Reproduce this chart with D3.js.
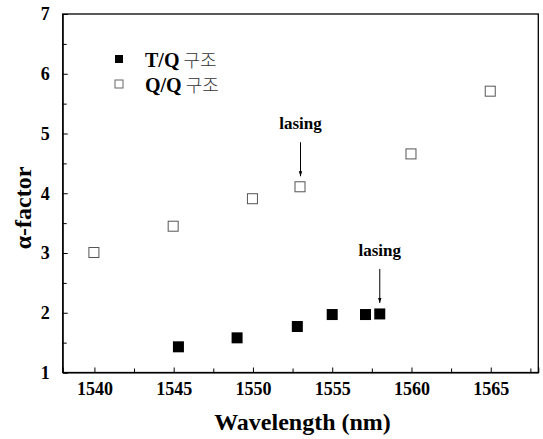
<!DOCTYPE html>
<html>
<head>
<meta charset="utf-8">
<script src="https://cdn.jsdelivr.net/npm/d3@7"></script>
<style>
  body { margin: 0; background: #fff; }
  svg text { font-family: "Times New Roman", "Liberation Serif", "DejaVu Serif", serif; fill: #000; }
  .axis path, .axis line { stroke: #000; }
</style>
</head>
<body>
<svg id="chart" width="543" height="439"></svg>
<script>
// T/Q structure (filled squares)
const tqWavelength = [1545.3, 1549.0, 1552.8, 1555.0, 1557.1, 1558.0];
const tqAlpha      = [1.43, 1.58, 1.77, 1.97, 1.97, 1.98];

// Q/Q structure (open squares)
const qqWavelength = [1540, 1545, 1550, 1553, 1560, 1565];
const qqAlpha      = [3.00, 3.44, 3.90, 4.10, 4.65, 5.70];

const xTicks = [1540, 1545, 1550, 1555, 1560, 1565];
const yTicks = [1, 2, 3, 4, 5, 6, 7];
const legendLabels = ["T/Q", "Q/Q"];
const legendSuffix = "구조";

// annotations: the point each "lasing" arrow points at
const lasingNotes = [
  { x: 1553, y: 4.10 },
  { x: 1558, y: 1.98 }
];

const serif = '"Times New Roman", "Liberation Serif", "DejaVu Serif", serif';

const svg = d3.select('#chart');
const margin = { top: 14, right: 4.7, bottom: 66.5, left: 62.7 };
const W = 543, H = 439;
const iw = W - margin.left - margin.right;
const ih = H - margin.top - margin.bottom;

const x = d3.scaleLinear().domain([1538, 1568]).range([0, iw]);
const y = d3.scaleLinear().domain([1, 7]).range([ih, 0]);

const g = svg.append('g').attr('transform', `translate(${margin.left},${margin.top})`);

// minor ticks halfway between the labelled ones
const xMinor = d3.range(1537.5, 1568.01, 5).filter(v => v >= 1538 && v <= 1568);
const yMinor = d3.range(1.5, 7, 1);

// axes, ticks pointing into the plot
g.append('g').attr('class', 'axis')
  .attr('transform', `translate(0,${ih})`)
  .call(d3.axisBottom(x).tickValues(xTicks).tickSize(-5).tickPadding(10).tickFormat(d3.format('d')));
g.append('g').attr('class', 'axis')
  .attr('transform', `translate(0,${ih})`)
  .call(d3.axisBottom(x).tickValues(xMinor).tickSize(-4).tickFormat(''))
  .select('.domain').remove();

g.append('g').attr('class', 'axis')
  .call(d3.axisLeft(y).tickValues(yTicks).tickSize(-5).tickPadding(13).tickFormat(d3.format('d')));
g.append('g').attr('class', 'axis')
  .call(d3.axisLeft(y).tickValues(yMinor).tickSize(-4).tickFormat(''))
  .select('.domain').remove();

g.selectAll('.axis').attr('font-family', serif);
g.selectAll('.axis text')
  .attr('font-family', serif)
  .style('font-size', '18px')
  .style('font-weight', 'bold');

// frame
g.append('rect')
  .attr('width', iw).attr('height', ih)
  .attr('fill', 'none').attr('stroke', '#000').attr('stroke-width', 1.3);

// markers
const ms = 11;
g.selectAll('.qq').data(qqWavelength).enter()
  .append('rect')
  .attr('class', 'qq')
  .attr('x', (d) => x(d) - ms / 2)
  .attr('y', (d, i) => y(qqAlpha[i]) - ms / 2)
  .attr('width', ms - 1).attr('height', ms - 1)
  .attr('fill', '#fff').attr('stroke', '#555').attr('stroke-width', 1);

g.selectAll('.tq').data(tqWavelength).enter()
  .append('rect')
  .attr('class', 'tq')
  .attr('x', (d) => x(d) - ms / 2)
  .attr('y', (d, i) => y(tqAlpha[i]) - ms / 2)
  .attr('width', ms).attr('height', ms)
  .attr('fill', '#000');

// lasing arrows
svg.append('defs').append('marker')
  .attr('id', 'head')
  .attr('viewBox', '0 0 10 10')
  .attr('refX', 10).attr('refY', 5)
  .attr('markerWidth', 5).attr('markerHeight', 6)
  .attr('orient', 'auto')
  .append('path').attr('d', 'M0,1.5 L10,5 L0,8.5 Z').attr('fill', '#000');

lasingNotes.forEach((n) => {
  const px = x(n.x), py = y(n.y);
  g.append('line')
    .attr('x1', px).attr('x2', px)
    .attr('y1', py - 45).attr('y2', py - 11)
    .attr('stroke', '#000').attr('stroke-width', 1)
    .attr('marker-end', 'url(#head)');
  g.append('text')
    .attr('x', px).attr('y', py - 58)
    .attr('text-anchor', 'middle')
    .style('font-size', '17px').style('font-weight', 'bold')
    .text('lasing');
});

// legend
const legend = svg.append('g').attr('transform', 'translate(119,59)');
legendLabels.forEach((label, i) => {
  const row = legend.append('g').attr('transform', `translate(0,${i * 25})`);
  row.append('rect')
    .attr('x', -4).attr('y', -4)
    .attr('width', 8).attr('height', 8)
    .attr('fill', i === 0 ? '#000' : '#fff')
    .attr('stroke', i === 0 ? 'none' : '#666');
  const t = row.append('text').attr('x', 26).attr('y', 7.5);
  t.append('tspan').style('font-size', '20px').style('font-weight', 'bold')
    .text(label);
  t.append('tspan').attr('dx', 4)
    .style('font-family', '"Noto Sans CJK KR"').style('font-size', '18px').style('font-weight', '300')
    .style('fill', '#333')
    .text(legendSuffix);
});

// axis titles
svg.append('text')
  .attr('x', 302.5).attr('y', 429.5)
  .attr('text-anchor', 'middle')
  .style('font-size', '24px').style('font-weight', 'bold')
  .text('Wavelength (nm)');

svg.append('text')
  .attr('transform', 'translate(31,208) rotate(-90)')
  .attr('text-anchor', 'middle')
  .style('font-size', '24px').style('font-weight', 'bold')
  .text('α-factor');
</script>
</body>
</html>
